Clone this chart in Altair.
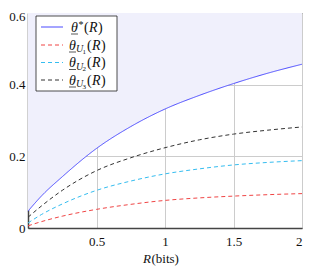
import altair as alt
import pandas as pd

R = [0.0, 0.1, 0.25, 0.5, 0.75, 1.0, 1.25, 1.5, 1.75, 2.0]
theta_star = [0.047, 0.090, 0.143, 0.222, 0.283, 0.332, 0.370, 0.403, 0.432, 0.457]
theta_u1 = [0.006, 0.018, 0.033, 0.052, 0.066, 0.077, 0.084, 0.089, 0.093, 0.096]
theta_u2 = [0.014, 0.038, 0.067, 0.105, 0.131, 0.151, 0.165, 0.176, 0.183, 0.188]
theta_u3 = [0.030, 0.062, 0.105, 0.160, 0.196, 0.224, 0.246, 0.262, 0.273, 0.282]
series = ["theta*", "theta_U1", "theta_U2", "theta_U3"]
sub_digits = ["", "1", "2", "3"]
colors = ["#4a4aff", "#f04545", "#35bdf0", "#333333"]
dashes = [[1, 0], [4, 3], [4, 3], [4, 3]]
x_ticks = [0.5, 1, 1.5, 2]
y_ticks = [0, 0.2, 0.4, 0.6]

rows = []
for name, vals in zip(series, [theta_star, theta_u1, theta_u2, theta_u3]):
    for r, v in zip(R, vals):
        rows.append({"R": r, "v": v, "s": name})
df = pd.DataFrame(rows)
area_df = pd.DataFrame({"R": R, "v": theta_star, "top": [0.6] * len(R)})
one = pd.DataFrame({"k": [0]})

FONT = "Liberation Serif"
INK = "#111111"
PH = 215  # plot height
PW = 274  # plot width

xs = alt.Scale(domain=[0, 2], nice=False)
ys = alt.Scale(domain=[0, 0.6], nice=False)

area = alt.Chart(area_df).mark_area(color="#f0f0fc", opacity=1, interpolate="monotone").encode(
    x=alt.X("R:Q", scale=xs),
    y=alt.Y("v:Q", scale=ys),
    y2="top:Q",
)

lines = alt.Chart(df).mark_line(strokeWidth=1, interpolate="monotone").encode(
    x=alt.X("R:Q", scale=xs, title=None,
            axis=alt.Axis(values=x_ticks, labelExpr="format(datum.value, '')",
                          labelFont=FONT, labelFontSize=13, labelColor=INK,
                          grid=True, gridColor="#cccccc", domainColor="#444444", domainWidth=1.5,
                          tickSize=0, labelPadding=7)),
    y=alt.Y("v:Q", scale=ys, title=None,
            axis=alt.Axis(values=y_ticks, labelExpr="format(datum.value, '')",
                          labelFont=FONT, labelFontSize=13, labelColor=INK,
                          labelOffset={"condition": {"test": "datum.value >= 0.59", "value": 3}, "value": 0},
                          grid=True, gridColor="#cccccc", domainColor="#444444", domainWidth=1.5,
                          tickSize=0, labelPadding=3)),
    color=alt.Color("s:N", scale=alt.Scale(domain=series, range=colors), legend=None),
    strokeDash=alt.StrokeDash("s:N", scale=alt.Scale(domain=series, range=dashes), legend=None),
)

layers = [area, lines]

# legend box
layers.append(alt.Chart(one).mark_rect(fill="white", stroke="#222222", strokeWidth=0.8).encode(
    x=alt.value(8), x2=alt.value(89), y=alt.value(3), y2=alt.value(78)))

def txt(s, x, y, size=14, italic=False):
    return alt.Chart(one).mark_text(text=s, font=FONT, fontSize=size, align="left",
                                    baseline="alphabetic", color=INK,
                                    fontStyle="italic" if italic else "normal").encode(
        x=alt.value(x), y=alt.value(y))

row_c = [14, 32, 49.5, 67]
for i, (col, dsh, dig) in enumerate(zip(colors, dashes, sub_digits)):
    yc = row_c[i]
    base = yc + 4.5
    layers.append(alt.Chart(one).mark_rule(color=col, strokeWidth=1, strokeDash=dsh).encode(
        x=alt.value(13), x2=alt.value(35), y=alt.value(yc)))
    if i == 0:
        tx = 43
        layers.append(txt("θ", tx, base, 14, True))
        layers.append(alt.Chart(one).mark_rule(color=INK, strokeWidth=0.7).encode(
            x=alt.value(tx), x2=alt.value(tx + 7), y=alt.value(base + 2.5)))
        layers.append(txt("*", tx + 7.5, base - 4, 10))
        px = tx + 13
    else:
        tx = 41
        layers.append(txt("θ", tx, base, 14, True))
        layers.append(alt.Chart(one).mark_rule(color=INK, strokeWidth=0.7).encode(
            x=alt.value(tx), x2=alt.value(tx + 7), y=alt.value(base + 2.5)))
        layers.append(txt("U", tx + 7, base + 2.5, 10, True))
        layers.append(txt(dig, tx + 13.5, base + 4, 7))
        px = tx + 18
    layers.append(txt("(", px, base, 14))
    layers.append(txt("R", px + 5, base, 14, True))
    layers.append(txt(")", px + 14, base, 14))

# x-axis title: R(bits)
layers.append(txt("R", 115, PH + 35, 13, True))
layers.append(txt("(bits)", 123.5, PH + 35, 13))

chart = alt.layer(*layers).properties(
    width=PW, height=PH,
    autosize=alt.AutoSizeParams(type="none"),
    padding={"left": 20, "top": 5, "right": 1, "bottom": 42},
    background="white",
).configure_view(stroke="#555555", strokeWidth=1)

chart.save("out.html", embed_options={"renderer": "svg", "actions": False})
